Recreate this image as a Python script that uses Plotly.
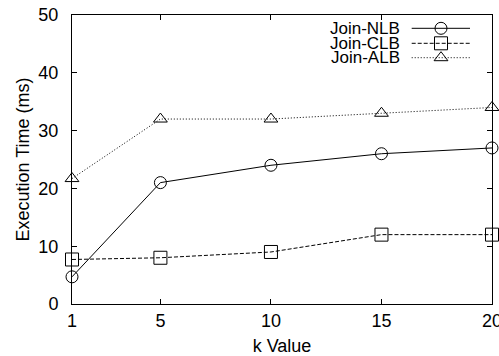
import plotly.graph_objects as go

k_values = [1, 5, 10, 15, 20]
join_nlb = [4.7, 21, 24, 26, 27]
join_clb = [7.7, 8, 9, 12, 12]
join_alb = [21.7, 32, 32, 33, 34]

series_names = ["Join-NLB", "Join-CLB", "Join-ALB"]
series_values = [join_nlb, join_clb, join_alb]
x_ticks = [1, 5, 10, 15, 20]
y_ticks = [0, 10, 20, 30, 40, 50]

FONT = "Liberation Sans, Arial, Helvetica, sans-serif"
styles = [
    dict(dash="solid", symbol="circle-open", size=12),
    dict(dash="4px,2px", symbol="square-open", size=13),
    dict(dash="1px,2px", symbol="triangle-up-open", size=12),
]

fig = go.Figure()
for name, vals, st in zip(series_names, series_values, styles):
    fig.add_trace(go.Scatter(
        x=k_values, y=vals, mode="lines+markers", name=name,
        line=dict(color="black", width=1, dash=st["dash"]),
        marker=dict(symbol=st["symbol"], size=st["size"], color="black",
                    line=dict(color="black", width=1)),
        cliponaxis=False, showlegend=False,
    ))

# custom legend (text left of the key, gnuplot style) on a pixel overlay axis
leg_rows = [13.3, 28.3, 42.7]
leg_line_x = [339.7, 369, 398]
for name, st, ry in zip(series_names, styles, leg_rows):
    fig.add_trace(go.Scatter(
        x=leg_line_x, y=[ry] * 3, mode="lines", xaxis="x2", yaxis="y2",
        line=dict(color="black", width=1, dash=st["dash"]),
        showlegend=False, hoverinfo="skip", cliponaxis=False,
    ))
    fig.add_trace(go.Scatter(
        x=[leg_line_x[1]], y=[ry], mode="markers", xaxis="x2", yaxis="y2",
        marker=dict(symbol=st["symbol"], size=st["size"], color="black",
                    line=dict(color="black", width=1)),
        showlegend=False, hoverinfo="skip", cliponaxis=False,
    ))
    fig.add_annotation(x=329.7, y=ry, xref="x2", yref="y2", text=name,
                       showarrow=False, xanchor="right", yanchor="middle",
                       font=dict(family=FONT, size=17, color="black"))

axis_common = dict(
    showline=True, linecolor="black", linewidth=1, mirror="ticks",
    ticks="inside", ticklen=5, tickcolor="black", tickwidth=1,
    showgrid=False, zeroline=False, ticklabeloverflow="allow",
    automargin=False,
    tickfont=dict(family=FONT, size=18, color="black"),
)

fig.update_layout(
    width=499, height=356,
    margin=dict(l=72, r=7, t=15, b=52),
    paper_bgcolor="white", plot_bgcolor="white",
    font=dict(family=FONT, size=18, color="black"),
    xaxis=dict(range=[1, 20], tickvals=x_ticks, ticklabelstandoff=0,
               title=dict(text="k Value", standoff=10,
                          font=dict(family=FONT, size=18, color="black")),
               **axis_common),
    yaxis=dict(range=[0, 50], tickvals=y_ticks, ticklabelstandoff=9,
               title=dict(text="Execution Time (ms)", standoff=4,
                          font=dict(family=FONT, size=18, color="black")),
               **axis_common),
    xaxis2=dict(range=[0, 420], overlaying="x", visible=False, anchor="y2",
                automargin=False),
    yaxis2=dict(range=[289, 0], overlaying="y", visible=False, anchor="x2",
                automargin=False),
)

fig.write_html("out.html")
